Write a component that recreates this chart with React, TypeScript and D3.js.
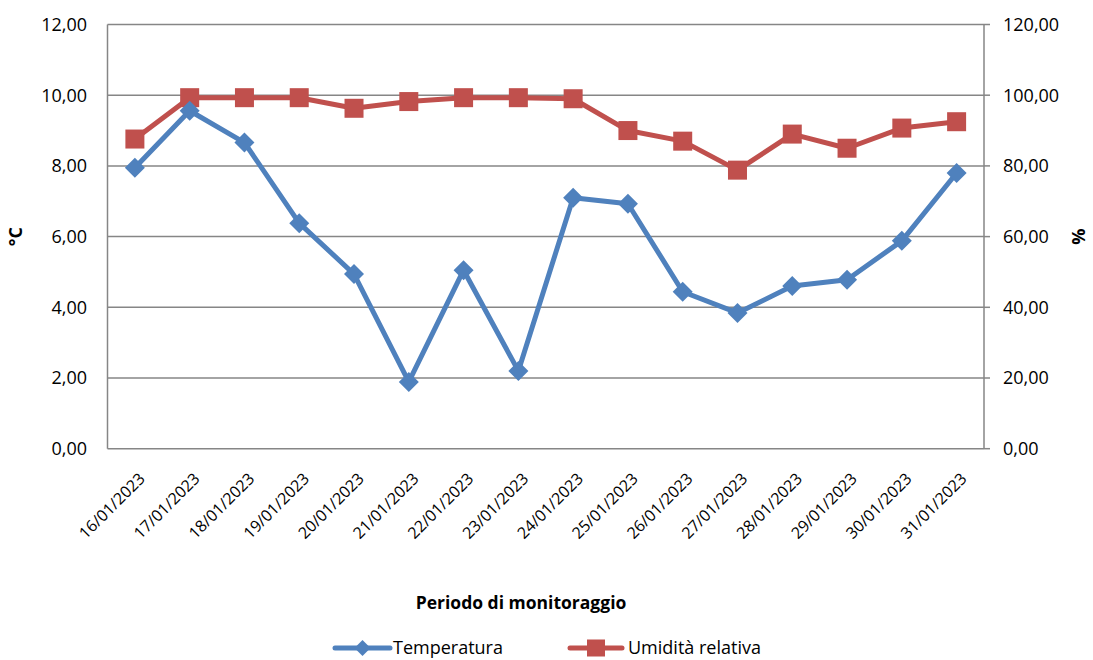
import React from "react";
import * as d3 from "d3";

const categories = [
  "16/01/2023", "17/01/2023", "18/01/2023", "19/01/2023", "20/01/2023", "21/01/2023",
  "22/01/2023", "23/01/2023", "24/01/2023", "25/01/2023", "26/01/2023", "27/01/2023",
  "28/01/2023", "29/01/2023", "30/01/2023", "31/01/2023",
];
const temperatura = [7.95, 9.56, 8.66, 6.38, 4.94, 1.89, 5.05, 2.2, 7.1, 6.93, 4.44, 3.84, 4.6, 4.78, 5.88, 7.8];
const umidita = [87.6, 99.3, 99.3, 99.3, 96.3, 98.2, 99.3, 99.3, 99.0, 90.0, 87.0, 78.8, 89.0, 85.0, 90.7, 92.5];
const leftTicks = [0, 2, 4, 6, 8, 10, 12];
const rightTicks = [0, 20, 40, 60, 80, 100, 120];
const seriesNames = ["Temperatura", "Umidità relativa"];

const BLUE = "#4F81BD";
const RED = "#C0504D";
const GRID = "#868686";
const FONT = "'Open Sans', 'Liberation Sans', sans-serif";
const FS = 18;

export default function App() {
  const W = 1093, H = 660;
  const L = 107.5, R = 984, T = 24.5, B = 448.7;
  const x = d3.scaleBand<string>().domain(categories).range([L, R]);
  const yL = d3.scaleLinear().domain([0, 12]).range([B, T]);
  const yR = d3.scaleLinear().domain([0, 120]).range([B, T]);
  const cx = (c: string) => (x(c) as number) + x.bandwidth() / 2;
  const fmt = (v: number) => d3.format(".2f")(v).replace(".", ",");

  const lineT = d3.line<number>().x((_, i) => cx(categories[i])).y((d) => yL(d));
  const lineH = d3.line<number>().x((_, i) => cx(categories[i])).y((d) => yR(d));

  const diamond = (px: number, py: number, s: number) =>
    `M${px},${py - s}L${px + s},${py}L${px},${py + s}L${px - s},${py}Z`;

  return (
    <svg width={W} height={H} style={{ position: "absolute", left: 0, top: 0, background: "#fff" }} fontFamily={FONT}>
      <rect x={0} y={0} width={W} height={H} fill="#fff" />
      {/* gridlines */}
      {leftTicks.map((t) => (
        <line key={"g" + t} x1={L} x2={R} y1={yL(t)} y2={yL(t)} stroke={GRID} strokeWidth={1.5} />
      ))}
      {/* axes */}
      <line x1={L} x2={L} y1={T} y2={B} stroke={GRID} strokeWidth={1.5} />
      <line x1={R} x2={R} y1={T} y2={B} stroke={GRID} strokeWidth={1.5} />
      {rightTicks.map((t) => (
        <line key={"rt" + t} x1={R} x2={R + 6} y1={yR(t)} y2={yR(t)} stroke={GRID} strokeWidth={1.5} />
      ))}
      {/* left tick labels */}
      {leftTicks.map((t) => (
        <text key={"lt" + t} x={87} y={yL(t)} dy="0.35em" textAnchor="end" fontSize={FS} fill="#000">
          {fmt(t)}
        </text>
      ))}
      {rightTicks.map((t) => (
        <text key={"rl" + t} x={1003} y={yR(t)} dy="0.35em" textAnchor="start" fontSize={FS} fill="#000">
          {fmt(t)}
        </text>
      ))}
      {/* x labels */}
      {categories.map((c) => (
        <text
          key={c}
          transform={`translate(${cx(c) + 11},${B + 31}) rotate(-45)`}
          textAnchor="end"
          fontSize={16}
          fill="#000"
        >
          {c}
        </text>
      ))}
      {/* axis titles */}
      <text transform={`translate(22,${(T + B) / 2}) rotate(-90)`} textAnchor="middle" fontSize={FS} fontWeight="bold" fill="#000">
        °C
      </text>
      <text transform={`translate(1079,${(T + B) / 2}) rotate(-90)`} textAnchor="middle" dy="0.35em" fontSize={FS} fontWeight="bold" fill="#000">
        %
      </text>
      <text x={521} y={603} dy="0.35em" textAnchor="middle" fontSize={17.5} fontWeight="bold" fill="#000">
        Periodo di monitoraggio
      </text>
      {/* series */}
      <path d={lineH(umidita) || ""} fill="none" stroke={RED} strokeWidth={5} strokeLinejoin="round" />
      {umidita.map((v, i) => (
        <rect key={"h" + i} x={cx(categories[i]) - 9.5} y={yR(v) - 9.5} width={19} height={19} fill={RED} />
      ))}
      <path d={lineT(temperatura) || ""} fill="none" stroke={BLUE} strokeWidth={5} strokeLinejoin="round" />
      {temperatura.map((v, i) => (
        <path key={"t" + i} d={diamond(cx(categories[i]), yL(v), 10)} fill={BLUE} />
      ))}
      {/* legend */}
      <line x1={335} x2={390} y1={648} y2={648} stroke={BLUE} strokeWidth={5} strokeLinecap="round" />
      <path d={diamond(362.5, 648, 8)} fill={BLUE} />
      <text x={393} y={648} dy="0.35em" fontSize={FS} fill="#000">{seriesNames[0]}</text>
      <line x1={570} x2={622} y1={648} y2={648} stroke={RED} strokeWidth={5} strokeLinecap="round" />
      <rect x={587} y={639.5} width={18} height={17} fill={RED} />
      <text x={628} y={648} dy="0.35em" fontSize={FS} fill="#000">{seriesNames[1]}</text>
    </svg>
  );
}
